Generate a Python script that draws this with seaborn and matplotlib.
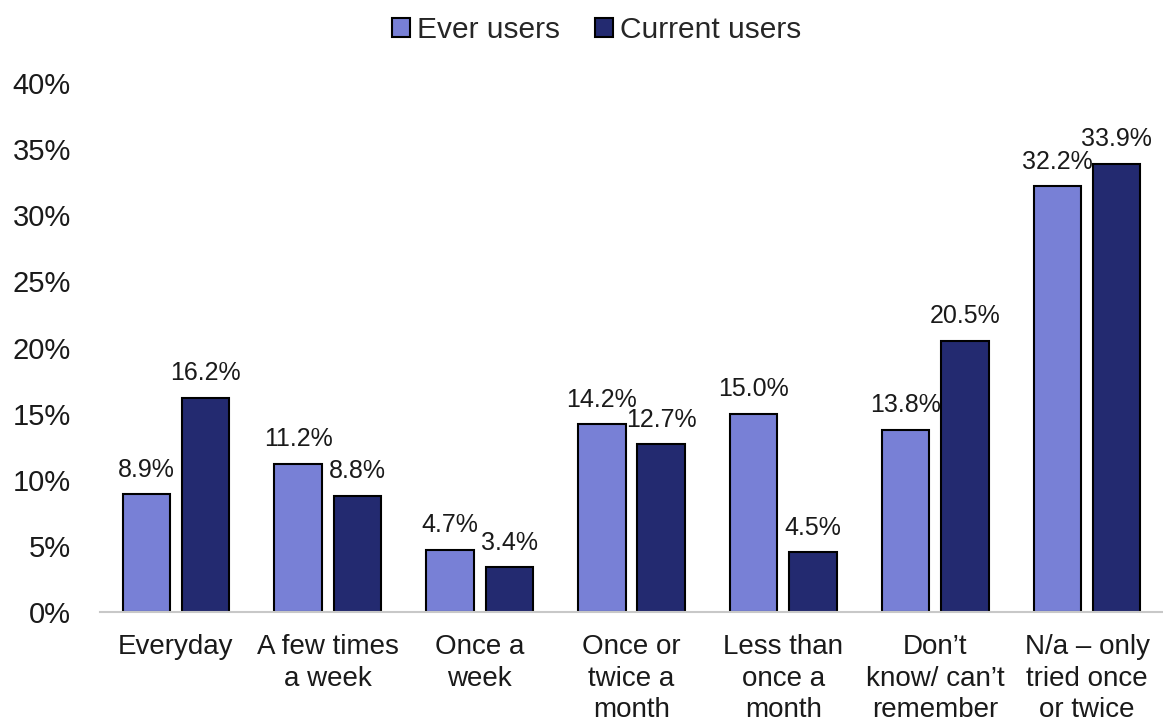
import matplotlib
matplotlib.use("Agg")
import matplotlib.pyplot as plt
import seaborn as sns
import pandas as pd
from matplotlib.ticker import FuncFormatter

categories = ["Everyday", "A few times\na week", "Once a\nweek", "Once or\ntwice a\nmonth",
              "Less than\nonce a\nmonth", "Don\u2019t\nknow/ can\u2019t\nremember",
              "N/a \u2013 only\ntried once\nor twice"]
ever_users = [8.9, 11.2, 4.7, 14.2, 15.0, 13.8, 32.2]
current_users = [16.2, 8.8, 3.4, 12.7, 4.5, 20.5, 33.9]
series_names = ["Ever users", "Current users"]
y_ticks = [0, 5, 10, 15, 20, 25, 30, 35, 40]

df = pd.DataFrame({
    "category": categories * 2,
    "series": [series_names[0]] * len(categories) + [series_names[1]] * len(categories),
    "value": ever_users + current_users,
})

sns.set_theme(style="white")
plt.rcParams["font.family"] = ["Liberation Sans", "DejaVu Sans"]

fig = plt.figure(figsize=(11.63, 7.24), dpi=100)
ax = fig.add_axes([0.086, 0.1547, 0.914, 0.7306])

palette = {"Ever users": "#7880D6", "Current users": "#232A70"}
sns.barplot(data=df, x="category", y="value", hue="series", order=categories,
            hue_order=series_names, palette=palette, width=0.78, gap=0.2,
            edgecolor="black", linewidth=1.5, saturation=1, ax=ax, legend=True)

for cont in ax.containers:
    ax.bar_label(cont, labels=[f"{v:.1f}%" for v in cont.datavalues], padding=9,
                 fontsize=18, color="#1a1a1a")

ax.set_ylim(0, 40)
ax.set_xlim(-0.5, len(categories) - 0.5)
ax.set_yticks(y_ticks)
ax.yaxis.set_major_formatter(FuncFormatter(lambda v, p: f"{v:.0f}%"))
ax.tick_params(axis="y", labelsize=21, pad=21, length=0, colors="#1a1a1a")
ax.tick_params(axis="x", labelsize=20, pad=16, length=0, colors="#1a1a1a")
ax.set_xlabel("")
ax.set_ylabel("")
for lbl in ax.get_xticklabels():
    lbl.set_linespacing(1.28)
for s in ["left", "right", "top"]:
    ax.spines[s].set_visible(False)
ax.spines["bottom"].set_color("#C8C8C8")
ax.spines["bottom"].set_linewidth(1.5)

handles, labels = ax.get_legend_handles_labels()
ax.legend(handles, labels, loc="upper center", bbox_to_anchor=(0.513, 1.0), bbox_transform=fig.transFigure,
          ncol=2, frameon=False, fontsize=21.5, handlelength=0.6, handleheight=0.6,
          handletextpad=0.25, columnspacing=1.15, borderaxespad=0.15)

fig.savefig("out.png", dpi=100)
